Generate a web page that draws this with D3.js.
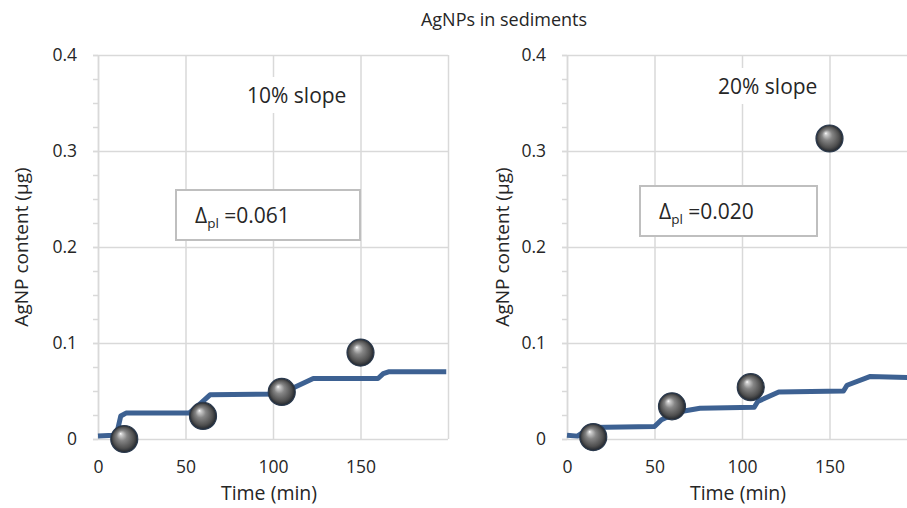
<!DOCTYPE html>
<html><head><meta charset="utf-8">
<script src="https://cdn.jsdelivr.net/npm/d3@7"></script>
<style>
body{margin:0;background:#fff;}
svg{display:block;font-family:"Open Sans",sans-serif;}
</style>
</head><body>
<svg id="chart" width="907" height="508"></svg>
<script>
// ---- data ----
const chartTitle = "AgNPs in sediments";
const panelLabels = ["10% slope", "20% slope"];
const deltaValues = ["0.061", "0.020"];
const sampleTimes = [15, 60, 105, 150];
const measured10 = [0.000, 0.024, 0.049, 0.090];
const measured20 = [0.002, 0.034, 0.054, 0.313];
const modelTime10 = [0, 9, 11, 13, 16, 52, 58, 64, 107, 109, 123, 160, 163, 166, 199];
const modelValue10 = [0.003, 0.004, 0.008, 0.024, 0.027, 0.027, 0.036, 0.046, 0.047, 0.051, 0.063, 0.063, 0.068, 0.070, 0.070];
const modelTime20 = [0, 6, 10, 13, 50, 54, 60, 66, 76, 107, 109, 121, 158, 160, 173, 199];
const modelValue20 = [0.004, 0.003, 0.008, 0.012, 0.013, 0.020, 0.025, 0.029, 0.032, 0.033, 0.039, 0.049, 0.050, 0.056, 0.065, 0.064];
const xTickValues = [0, 50, 100, 150];
const xGridValues = [0, 50, 100, 150, 200];
const yTickValues = [0, 0.1, 0.2, 0.3, 0.4];
const yMinorValues = d3.range(0, 0.4001, 0.025);
const xLabel = "Time (min)";
const yLabel = "AgNP content (μg)";

// ---- layout ----
const panels = [
  { left: 98,  right: 448, yLabelX: 21,  label: panelLabels[0], labelX: 247, labelY: 103,
    box: [176, 190, 184, 50], delta: deltaValues[0],
    model: modelTime10.map((t, i) => [t, modelValue10[i]]),
    points: sampleTimes.map((t, i) => [t, measured10[i]]) },
  { left: 567, right: 917, yLabelX: 502, label: panelLabels[1], labelX: 718, labelY: 94,
    box: [640, 186, 177, 50], delta: deltaValues[1],
    model: modelTime20.map((t, i) => [t, modelValue20[i]]),
    points: sampleTimes.map((t, i) => [t, measured20[i]]) }
];
const plotTop = 55, plotBottom = 439;
const gridColor = "#d9d9d9";
const textColor = "#262626";

const svg = d3.select("#chart");
const defs = svg.append("defs");

// shaded sphere marker
const grad = defs.append("radialGradient").attr("id", "ball")
  .attr("cx", "50%").attr("cy", "50%").attr("r", "50%")
  .attr("fx", "36%").attr("fy", "30%");
[[0, "#ffffff"], [0.1, "#cfcfcf"], [0.38, "#858585"], [0.78, "#4f4f4f"], [1, "#1f242b"]]
  .forEach(([o, c]) => grad.append("stop").attr("offset", o).attr("stop-color", c));

svg.append("text")
  .attr("x", 504).attr("y", 26)
  .attr("text-anchor", "middle")
  .attr("font-size", 18).attr("fill", textColor)
  .text(chartTitle);

panels.forEach(p => {
  const x = d3.scaleLinear().domain([0, 200]).range([p.left, p.right]);
  const y = d3.scaleLinear().domain([0, 0.4]).range([plotBottom, plotTop]);
  const g = svg.append("g");

  // vertical gridlines
  g.append("g")
    .attr("transform", `translate(0,${plotTop})`)
    .call(d3.axisBottom(x).tickValues(xGridValues).tickSize(plotBottom - plotTop).tickFormat(""))
    .call(a => a.select(".domain").remove())
    .call(a => a.selectAll("line").attr("stroke", gridColor).attr("stroke-width", 1.5));

  // horizontal gridlines + major ticks
  g.append("g")
    .attr("transform", `translate(${p.left},0)`)
    .call(d3.axisLeft(y).tickValues(yTickValues).tickSizeInner(-(p.right - p.left)).tickSizeOuter(0).tickFormat(""))
    .call(a => a.select(".domain").remove())
    .call(a => a.selectAll("line").attr("x1", -5).attr("stroke", gridColor).attr("stroke-width", 1.5));

  // minor ticks and y axis line
  g.append("g")
    .attr("transform", `translate(${p.left},0)`)
    .call(d3.axisLeft(y).tickValues(yMinorValues).tickSize(5).tickSizeOuter(0).tickFormat(""))
    .call(a => a.select(".domain").attr("stroke", gridColor).attr("stroke-width", 1.5))
    .call(a => a.selectAll("line").attr("stroke", gridColor).attr("stroke-width", 1.5));

  // y tick labels
  g.append("g")
    .attr("transform", `translate(${p.left - 18},0)`)
    .call(d3.axisLeft(y).tickValues(yTickValues).tickSize(0).tickFormat(d => d === 0 ? "0" : d3.format(".1f")(d)))
    .call(a => a.select(".domain").remove())
    .call(a => a.selectAll("text").attr("font-size", 17.5).attr("fill", textColor).attr("font-family", "Open Sans"));

  // x tick labels
  g.append("g")
    .attr("transform", `translate(0,${plotBottom + 19})`)
    .call(d3.axisBottom(x).tickValues(xTickValues).tickSize(0))
    .call(a => a.select(".domain").remove())
    .call(a => a.selectAll("text").attr("font-size", 17.5).attr("fill", textColor).attr("font-family", "Open Sans"));

  // axis titles
  g.append("text")
    .attr("x", (p.left + p.right) / 2 - 4).attr("y", 500)
    .attr("text-anchor", "middle").attr("font-size", 19.5).attr("fill", textColor)
    .text(xLabel);
  g.append("text")
    .attr("transform", `translate(${p.yLabelX + 7},${(plotTop + plotBottom) / 2}) rotate(-90)`)
    .attr("text-anchor", "middle").attr("font-size", 19).attr("fill", textColor)
    .text(yLabel);

  // slope label on a white backing
  const lbl = g.append("text")
    .attr("x", p.labelX).attr("y", p.labelY)
    .attr("font-size", 21).attr("fill", textColor)
    .text(p.label);
  const bb = lbl.node().getBBox();
  g.append("rect")
    .attr("x", bb.x - 4).attr("y", bb.y - 4)
    .attr("width", bb.width + 8).attr("height", bb.height + 8)
    .attr("fill", "#fff");
  lbl.raise();

  // delta box
  const [bx, by, bw, bh] = p.box;
  g.append("rect")
    .attr("x", bx).attr("y", by).attr("width", bw).attr("height", bh)
    .attr("fill", "#fff").attr("stroke", "#bfbfbf").attr("stroke-width", 2);
  const dt = g.append("text")
    .attr("x", bx + 19).attr("y", by + 33)
    .attr("font-size", 21).attr("fill", textColor);
  dt.append("tspan").text("Δ");
  dt.append("tspan").attr("font-size", 13.5).attr("dy", 5).text("pl");
  dt.append("tspan").attr("dy", -5).text(" =" + p.delta);

  // model curve
  g.append("path")
    .datum(p.model)
    .attr("d", d3.line().x(d => x(d[0])).y(d => y(d[1])))
    .attr("fill", "none").attr("stroke", "#3d6192")
    .attr("stroke-width", 5).attr("stroke-linejoin", "round");

  // measured points
  g.selectAll("circle.obs")
    .data(p.points)
    .join("circle")
    .attr("class", "obs")
    .attr("cx", d => x(d[0])).attr("cy", d => y(d[1]))
    .attr("r", 13.5)
    .attr("fill", "url(#ball)")
    .attr("stroke", "#2b3a4e").attr("stroke-width", 1.2);
});
</script>
</body></html>
